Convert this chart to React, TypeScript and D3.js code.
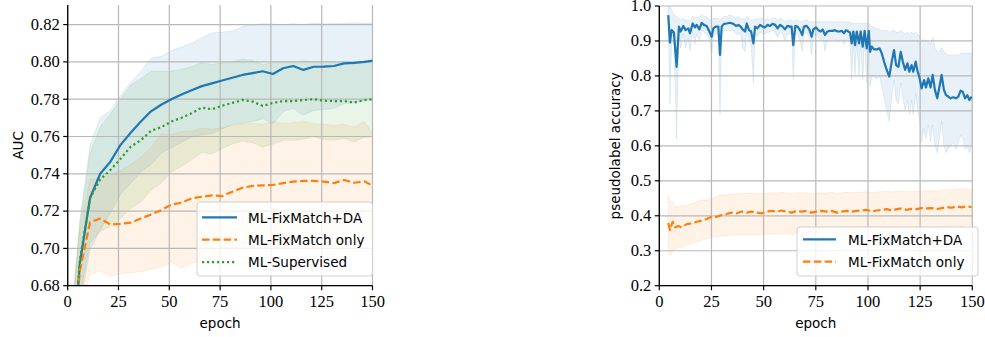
import React from 'react';
import * as d3 from 'd3';

// ---- left panel: AUC, logged every 5 epochs ----
const aucEpochs = [1, 6, 11, 16, 21, 26, 31, 36, 41, 46, 51, 56, 61, 66, 71, 76,
  81, 86, 91, 96, 101, 106, 111, 116, 121, 126, 131, 136, 141, 146, 151];

const aucDA = [0.62, 0.692, 0.727, 0.740, 0.7465, 0.7555, 0.762, 0.768, 0.7735, 0.777,
  0.780, 0.7825, 0.7848, 0.787, 0.7885, 0.790, 0.7915, 0.793, 0.794, 0.795,
  0.7935, 0.7966, 0.7978, 0.7957, 0.7974, 0.7975, 0.7978, 0.7992, 0.7995, 0.800, 0.8008];
const aucDAHi = [0.65, 0.715, 0.755, 0.770, 0.774, 0.782, 0.789, 0.795, 0.802, 0.803,
  0.806, 0.808, 0.810, 0.813, 0.8155, 0.816, 0.8165, 0.819, 0.8198, 0.8205,
  0.8203, 0.820, 0.8205, 0.820, 0.8207, 0.8205, 0.8205, 0.8207, 0.821, 0.8208, 0.821];
const aucDALo = [0.59, 0.669, 0.699, 0.710, 0.719, 0.729, 0.735, 0.741, 0.745, 0.751,
  0.754, 0.757, 0.7596, 0.761, 0.7615, 0.764, 0.7665, 0.767, 0.768, 0.7695,
  0.7667, 0.7732, 0.775, 0.7714, 0.774, 0.7745, 0.775, 0.7777, 0.778, 0.7792, 0.7806];

const aucFM = [0.63, 0.688, 0.714, 0.716, 0.7128, 0.7132, 0.7138, 0.716, 0.7182, 0.7205,
  0.7235, 0.7245, 0.7268, 0.7277, 0.7284, 0.728, 0.7304, 0.7325, 0.7335, 0.7338,
  0.734, 0.735, 0.7358, 0.7362, 0.7362, 0.7358, 0.735, 0.7367, 0.7352, 0.736, 0.733];
const aucFMHi = [0.66, 0.71, 0.737, 0.738, 0.739, 0.742, 0.745, 0.749, 0.754, 0.7615,
  0.761, 0.7625, 0.763, 0.7645, 0.764, 0.7645, 0.766, 0.7665, 0.767, 0.7665,
  0.768, 0.767, 0.7675, 0.768, 0.767, 0.7665, 0.766, 0.7665, 0.765, 0.768, 0.7605];
const aucFMLo = [0.60, 0.666, 0.686, 0.688, 0.685, 0.6865, 0.687, 0.6875, 0.689, 0.690,
  0.6925, 0.6895, 0.692, 0.6935, 0.695, 0.697, 0.700, 0.7005, 0.700, 0.700,
  0.700, 0.700, 0.7005, 0.701, 0.7005, 0.7005, 0.7015, 0.702, 0.7025, 0.703, 0.7055];

const aucSup = [0.62, 0.694, 0.727, 0.737, 0.742, 0.748, 0.7545, 0.758, 0.763, 0.765,
  0.768, 0.770, 0.7725, 0.7755, 0.7746, 0.7765, 0.778, 0.7796, 0.7787, 0.7764,
  0.778, 0.779, 0.779, 0.7795, 0.780, 0.7792, 0.779, 0.779, 0.7782, 0.7795, 0.780];
const aucSupHi = [0.65, 0.714, 0.751, 0.765, 0.772, 0.780, 0.7875, 0.791, 0.795, 0.795,
  0.795, 0.796, 0.7975, 0.7995, 0.7986, 0.7995, 0.800, 0.8016, 0.8007, 0.7984,
  0.800, 0.800, 0.800, 0.8005, 0.800, 0.8002, 0.800, 0.799, 0.7992, 0.7995, 0.800];
const aucSupLo = [0.59, 0.674, 0.703, 0.709, 0.712, 0.716, 0.7215, 0.725, 0.731, 0.735,
  0.741, 0.744, 0.7475, 0.7515, 0.7506, 0.7535, 0.756, 0.7576, 0.7567, 0.7544,
  0.756, 0.758, 0.758, 0.7585, 0.760, 0.7582, 0.758, 0.759, 0.7572, 0.7595, 0.760];

// ---- right panel: pseudolabel accuracy ----
const plEpochsDA = [4.3, 5.1, 5.9, 7.0, 8.3, 9.4, 10.2, 11.5, 12.6, 13.9,
  14.7, 16.0, 17.1, 17.9, 19.2, 20.3, 21.4, 22.7, 24.0, 25.1,
  25.9, 27.0, 28.3, 29.1, 29.9, 31.0, 32.3, 33.9, 35.5, 36.8,
  37.9, 39.0, 39.9, 41.1, 41.9, 43.0, 44.0, 45.1, 45.9, 47.0,
  48.3, 49.5, 50.7, 51.8, 53.1, 54.3, 55.5, 56.7, 57.9, 59.1,
  60.2, 61.4, 62.6, 63.4, 64.2, 65.2, 66.3, 67.4, 68.5, 69.3,
  70.6, 71.9, 73.0, 73.8, 75.1, 76.2, 77.3, 78.3, 79.4, 80.5,
  81.8, 83.1, 84.2, 85.3, 86.3, 87.4, 88.5, 89.5, 90.6, 91.4,
  92.2, 93.0, 93.8, 94.6, 95.7, 96.5, 97.5, 98.4, 99.4, 100.4,
  101.0, 101.8, 102.9, 104.2, 105.5, 106.6, 107.7, 109.0, 110.2, 111.4,
  112.5, 113.5, 114.6, 115.7, 116.7, 117.8, 118.9, 119.8, 120.9, 121.7,
  122.9, 123.8, 124.6, 125.7, 126.9, 127.8, 128.9, 130.0, 131.0, 132.1,
  133.2, 134.2, 135.3, 136.4, 137.4, 138.5, 139.6, 140.9, 142.2, 143.3,
  144.4, 145.4, 146.5, 147.6, 148.6, 149.7];
const plDA = [0.974, 0.895, 0.931, 0.924, 0.826, 0.941, 0.927, 0.943, 0.931, 0.936,
  0.922, 0.950, 0.939, 0.946, 0.933, 0.952, 0.946, 0.943, 0.927, 0.912,
  0.936, 0.941, 0.941, 0.860, 0.941, 0.949, 0.950, 0.952, 0.949, 0.943,
  0.946, 0.941, 0.933, 0.927, 0.950, 0.931, 0.927, 0.893, 0.941, 0.936,
  0.946, 0.941, 0.939, 0.946, 0.943, 0.949, 0.946, 0.936, 0.946, 0.941,
  0.933, 0.943, 0.941, 0.941, 0.888, 0.943, 0.941, 0.931, 0.917, 0.941,
  0.943, 0.933, 0.912, 0.933, 0.939, 0.931, 0.927, 0.933, 0.917, 0.927,
  0.929, 0.929, 0.931, 0.927, 0.927, 0.929, 0.922, 0.931, 0.927, 0.924,
  0.893, 0.927, 0.888, 0.927, 0.893, 0.927, 0.884, 0.929, 0.879, 0.929,
  0.869, 0.884, 0.876, 0.876, 0.879, 0.865, 0.841, 0.817, 0.798, 0.841,
  0.874, 0.831, 0.826, 0.869, 0.841, 0.817, 0.836, 0.812, 0.831, 0.812,
  0.841, 0.812, 0.798, 0.764, 0.788, 0.767, 0.793, 0.767, 0.803, 0.760,
  0.736, 0.767, 0.803, 0.760, 0.745, 0.741, 0.736, 0.739, 0.736, 0.741,
  0.758, 0.755, 0.736, 0.745, 0.731, 0.741];
const plDAHi = [1.0, 1.0, 0.99, 0.975, 0.97, 0.965, 0.96, 0.965, 0.96, 0.96,
  0.955, 0.97, 0.965, 0.97, 0.965, 0.975, 0.97, 0.97, 0.96, 0.96,
  0.965, 0.965, 0.965, 0.955, 0.965, 0.97, 0.97, 0.975, 0.97, 0.965,
  0.97, 0.965, 0.965, 0.96, 0.97, 0.965, 0.96, 0.96, 0.965, 0.96,
  0.965, 0.965, 0.96, 0.965, 0.96, 0.965, 0.965, 0.96, 0.965, 0.96,
  0.955, 0.96, 0.96, 0.96, 0.955, 0.96, 0.96, 0.955, 0.955, 0.96,
  0.96, 0.955, 0.955, 0.955, 0.955, 0.955, 0.955, 0.955, 0.955, 0.955,
  0.955, 0.955, 0.955, 0.955, 0.955, 0.955, 0.955, 0.955, 0.955, 0.955,
  0.95, 0.95, 0.95, 0.95, 0.95, 0.95, 0.95, 0.95, 0.95, 0.95,
  0.945, 0.94, 0.94, 0.935, 0.935, 0.93, 0.93, 0.93, 0.925, 0.93,
  0.93, 0.925, 0.925, 0.93, 0.925, 0.92, 0.925, 0.92, 0.925, 0.92,
  0.925, 0.92, 0.915, 0.90, 0.905, 0.90, 0.90, 0.89, 0.91, 0.88,
  0.87, 0.87, 0.88, 0.87, 0.865, 0.86, 0.86, 0.86, 0.86, 0.86,
  0.865, 0.865, 0.865, 0.865, 0.865, 0.865];
const plDALo = [0.95, 0.72, 0.90, 0.89, 0.62, 0.92, 0.88, 0.92, 0.88, 0.91,
  0.87, 0.93, 0.89, 0.92, 0.90, 0.93, 0.925, 0.92, 0.90, 0.86,
  0.91, 0.92, 0.92, 0.69, 0.92, 0.93, 0.93, 0.93, 0.93, 0.92,
  0.92, 0.92, 0.88, 0.87, 0.93, 0.90, 0.89, 0.78, 0.92, 0.91,
  0.925, 0.92, 0.92, 0.925, 0.925, 0.93, 0.925, 0.91, 0.925, 0.92,
  0.90, 0.92, 0.92, 0.92, 0.79, 0.92, 0.92, 0.90, 0.87, 0.92,
  0.925, 0.91, 0.86, 0.91, 0.92, 0.91, 0.90, 0.91, 0.87, 0.90,
  0.905, 0.905, 0.905, 0.90, 0.90, 0.905, 0.89, 0.905, 0.90, 0.90,
  0.79, 0.90, 0.80, 0.90, 0.80, 0.90, 0.79, 0.90, 0.78, 0.89,
  0.77, 0.80, 0.80, 0.79, 0.80, 0.77, 0.74, 0.70, 0.67, 0.74,
  0.79, 0.73, 0.72, 0.78, 0.74, 0.70, 0.73, 0.69, 0.73, 0.69,
  0.75, 0.70, 0.68, 0.61, 0.65, 0.62, 0.66, 0.61, 0.66, 0.60,
  0.58, 0.62, 0.67, 0.60, 0.58, 0.59, 0.60, 0.61, 0.59, 0.61,
  0.63, 0.62, 0.59, 0.60, 0.58, 0.60];

const plEpochsFM = [4.3, 5.1, 6.4, 7.5, 9.1, 10.7, 13.1, 15.5, 17.9, 20.3,
  22.7, 25.1, 27.5, 29.9, 32.3, 34.7, 37.1, 39.5, 41.9, 44.3,
  46.7, 49.1, 51.5, 53.9, 56.2, 58.6, 61.0, 63.4, 65.8, 68.2,
  70.6, 73.0, 75.4, 77.8, 80.2, 82.6, 85.0, 87.4, 89.8, 92.2,
  94.6, 97.0, 99.4, 101.8, 104.2, 106.6, 109.0, 111.4, 113.8, 116.2,
  118.5, 120.9, 123.3, 125.7, 128.1, 130.5, 132.9, 135.3, 137.7, 140.1,
  142.5, 144.9, 147.3, 149.7];
const plFM = [0.379, 0.359, 0.383, 0.367, 0.371, 0.367, 0.376, 0.378, 0.383, 0.386,
  0.391, 0.397, 0.397, 0.402, 0.405, 0.409, 0.407, 0.412, 0.409, 0.412,
  0.409, 0.407, 0.412, 0.414, 0.412, 0.415, 0.412, 0.409, 0.414, 0.412,
  0.414, 0.409, 0.412, 0.414, 0.412, 0.414, 0.409, 0.412, 0.414, 0.412,
  0.414, 0.415, 0.417, 0.412, 0.415, 0.417, 0.419, 0.415, 0.419, 0.421,
  0.417, 0.420, 0.419, 0.422, 0.421, 0.422, 0.419, 0.422, 0.425, 0.423,
  0.427, 0.424, 0.427, 0.425];
const plFMHi = [0.46, 0.44, 0.44, 0.425, 0.425, 0.43, 0.43, 0.435, 0.44, 0.445,
  0.445, 0.45, 0.455, 0.46, 0.46, 0.462, 0.462, 0.465, 0.463, 0.465,
  0.463, 0.462, 0.465, 0.466, 0.465, 0.467, 0.465, 0.463, 0.466, 0.465,
  0.466, 0.463, 0.465, 0.466, 0.465, 0.467, 0.463, 0.466, 0.467, 0.466,
  0.467, 0.468, 0.469, 0.466, 0.468, 0.469, 0.47, 0.468, 0.47, 0.471,
  0.469, 0.471, 0.47, 0.472, 0.471, 0.472, 0.47, 0.473, 0.476, 0.474,
  0.477, 0.475, 0.478, 0.474];
const plFMLo = [0.30, 0.285, 0.30, 0.305, 0.31, 0.31, 0.315, 0.32, 0.325, 0.33,
  0.335, 0.338, 0.34, 0.342, 0.343, 0.345, 0.344, 0.346, 0.345, 0.347,
  0.345, 0.344, 0.347, 0.348, 0.347, 0.349, 0.348, 0.345, 0.35, 0.349,
  0.351, 0.348, 0.351, 0.352, 0.351, 0.353, 0.35, 0.352, 0.354, 0.353,
  0.355, 0.356, 0.358, 0.354, 0.357, 0.359, 0.361, 0.358, 0.362, 0.364,
  0.36, 0.363, 0.362, 0.366, 0.365, 0.366, 0.364, 0.368, 0.371, 0.369,
  0.373, 0.37, 0.374, 0.372];

const epochTicks = [0, 25, 50, 75, 100, 125, 150];
const aucTicks = [0.68, 0.70, 0.72, 0.74, 0.76, 0.78, 0.80, 0.82];
const plTicks = [0.2, 0.3, 0.4, 0.5, 0.6, 0.7, 0.8, 0.9, 1.0];

const BLUE = '#1f77b4';
const ORANGE = '#ff7f0e';
const GREEN = '#2ca02c';
const SERIF = '"Liberation Serif", "DejaVu Serif", serif';
const SANS = '"DejaVu Sans", sans-serif';

const mk = (name, color, dash, xs, mean, lo, hi) => ({
  name, color, dash,
  pts: xs.map((e, i) => ({ e, m: mean[i], lo: lo[i], hi: hi[i] })),
});

const aucSeries = [
  mk('ML-FixMatch+DA', BLUE, null, aucEpochs, aucDA, aucDALo, aucDAHi),
  mk('ML-FixMatch only', ORANGE, '7.5,3.3', aucEpochs, aucFM, aucFMLo, aucFMHi),
  mk('ML-Supervised', GREEN, '2.2,2.8', aucEpochs, aucSup, aucSupLo, aucSupHi),
];
const plSeries = [
  mk('ML-FixMatch+DA', BLUE, null, plEpochsDA, plDA, plDALo, plDAHi),
  mk('ML-FixMatch only', ORANGE, '7.5,3.3', plEpochsFM, plFM, plFMLo, plFMHi),
];

function Panel({ id, box, yDomain, yTicks, yFmt, yLabel, yLabelX, series, legend }) {
  const x = d3.scaleLinear().domain([0, 150]).range([box.left, box.right]);
  const y = d3.scaleLinear().domain(yDomain).range([box.bottom, box.top]);
  const area = d3.area().x(d => x(d.e)).y0(d => y(d.lo)).y1(d => y(d.hi));
  const line = d3.line().x(d => x(d.e)).y(d => y(d.m));
  const fmt = d3.format(yFmt);
  const midY = (box.top + box.bottom) / 2;

  return (
    <g>
      <defs>
        <clipPath id={id}>
          <rect x={box.left} y={box.top} width={box.right - box.left} height={box.bottom - box.top} />
        </clipPath>
      </defs>
      <g clipPath={`url(#${id})`}>
        {series.map(s => (
          <path key={s.name} d={area(s.pts)} fill={s.color} fillOpacity={0.1}
            stroke={s.color} strokeOpacity={0.1} strokeWidth={1} />
        ))}
      </g>
      {epochTicks.map(t => (
        <line key={'gx' + t} x1={x(t)} x2={x(t)} y1={box.top} y2={box.bottom} stroke="#b8b8b8" strokeWidth={1.2} />
      ))}
      {yTicks.map(t => (
        <line key={'gy' + t} x1={box.left} x2={box.right} y1={y(t)} y2={y(t)} stroke="#b8b8b8" strokeWidth={1.2} />
      ))}
      <g clipPath={`url(#${id})`}>
        {series.map(s => (
          <path key={s.name} d={line(s.pts)} fill="none" stroke={s.color} strokeWidth={2.2}
            strokeDasharray={s.dash || undefined} strokeLinejoin="round" />
        ))}
      </g>
      <line x1={box.left} x2={box.left} y1={box.top} y2={box.bottom} stroke="#000" strokeWidth={1.3} />
      <line x1={box.left} x2={box.right} y1={box.bottom} y2={box.bottom} stroke="#000" strokeWidth={1.3} />
      {epochTicks.map(t => (
        <g key={'tx' + t}>
          <line x1={x(t)} x2={x(t)} y1={box.bottom} y2={box.bottom + 4.5} stroke="#000" strokeWidth={1.2} />
          <text x={x(t)} y={306.5} textAnchor="middle" fontFamily={SERIF} fontSize={16.5}>{t}</text>
        </g>
      ))}
      {yTicks.map(t => (
        <g key={'ty' + t}>
          <line x1={box.left - 4.5} x2={box.left} y1={y(t)} y2={y(t)} stroke="#000" strokeWidth={1.2} />
          <text x={box.left - 8} y={y(t) + 5.4} textAnchor="end" fontFamily={SERIF} fontSize={16.5}>{fmt(t)}</text>
        </g>
      ))}
      <text x={(box.left + box.right) / 2} y={328} textAnchor="middle" fontFamily={SANS} fontSize={13.5}>epoch</text>
      <text transform={`translate(${yLabelX},${midY}) rotate(-90)`} textAnchor="middle"
        fontFamily={SANS} fontSize={13.5}>{yLabel}</text>
      <g>
        <rect x={legend.x} y={legend.y} width={legend.w} height={legend.h} rx={3} ry={3}
          fill="#fff" fillOpacity={0.8} stroke="#d0d0d0" strokeWidth={1} />
        {series.map((s, i) => {
          const ry = legend.rowY + i * legend.step;
          return (
            <g key={'lg' + s.name}>
              <line x1={legend.hx} x2={legend.hx + legend.hw} y1={ry} y2={ry} stroke={s.color}
                strokeWidth={2.2} strokeDasharray={s.dash || undefined} />
              <text x={legend.tx} y={ry + 5.2} fontFamily={SANS} fontSize={13.5}>{s.name}</text>
            </g>
          );
        })}
      </g>
    </g>
  );
}

export default function App() {
  return (
    <div style={{ position: 'absolute', left: 0, top: 0, width: 985, height: 337, background: '#fff' }}>
      <svg width={985} height={337} viewBox="0 0 985 337" xmlns="http://www.w3.org/2000/svg">
        <rect width={985} height={337} fill="#fff" />
        <Panel id="clipAuc" box={{ left: 67.7, right: 372.5, top: 5, bottom: 285.7 }}
          yDomain={[0.68, 0.8305]} yTicks={aucTicks} yFmt=".2f" yLabel="AUC" yLabelX={22.5}
          series={aucSeries}
          legend={{ x: 197, y: 202, w: 175.5, h: 74, rowY: 217.3, step: 22.4, hx: 202, hw: 35, tx: 248 }} />
        <Panel id="clipPl" box={{ left: 659.3, right: 972.3, top: 6, bottom: 285.7 }}
          yDomain={[0.2, 1.0]} yTicks={plTicks} yFmt=".1f" yLabel="pseudolabel accuracy" yLabelX={620}
          series={plSeries}
          legend={{ x: 797, y: 227, w: 181, h: 49, rowY: 239.3, step: 22.4, hx: 803, hw: 33, tx: 848 }} />
      </svg>
    </div>
  );
}
